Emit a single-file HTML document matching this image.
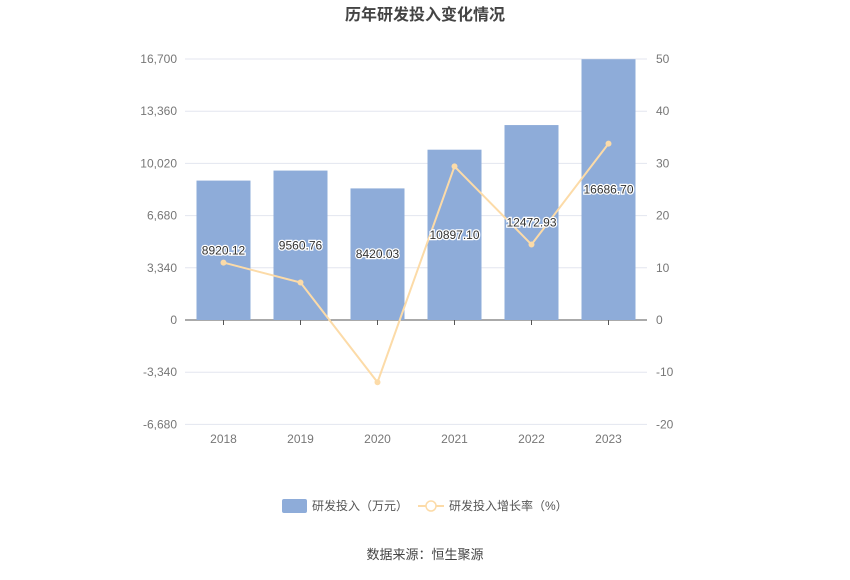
<!DOCTYPE html>
<html><head><meta charset="utf-8"><style>
body{margin:0;background:#fff;font-family:"Liberation Sans","Noto Sans CJK SC",sans-serif;}
svg text{font-family:"Liberation Sans","Noto Sans CJK SC",sans-serif;}
</style></head><body>
<svg id="chart" width="850" height="575">
<text x="425" y="20" text-anchor="middle" font-size="16" font-weight="bold" fill="#444">历年研发投入变化情况</text>
<g id="grid"></g><g id="bars"></g><g id="line"></g><g id="labels"></g><g id="axes"></g>
<g>
<g><rect x="282" y="499" width="25" height="14" rx="2" fill="#8eacd9"/><text x="312" y="510" font-size="12" fill="#555">研发投入（万元）</text></g>
<g><line x1="418" y1="506" x2="444" y2="506" stroke="#fcdba8" stroke-width="2"/><circle cx="431" cy="506" r="5" fill="#fff" stroke="#fcdba8" stroke-width="1.5"/><text x="449" y="510" font-size="12" fill="#555">研发投入增长率（%）</text></g>
</g>
<text x="425" y="559" text-anchor="middle" font-size="13" fill="#444">数据来源：恒生聚源</text>
</svg>
<script>
const categories=["2018","2019","2020","2021","2022","2023"];
const investment=[8920.12,9560.76,8420.03,10897.10,12472.93,16686.70];
const growth=[11.0,7.18,-11.93,29.42,14.46,33.78];
const leftTicks=[-6680,-3340,0,3340,6680,10020,13360,16700];
const rightTicks=[-20,-10,0,10,20,30,40,50];
const NS="http://www.w3.org/2000/svg";
const x0=185,x1=647,yTop=59,yZero=320,pxPer=261/16700;
const yL=v=>yZero-v*pxPer;
const yR=v=>yZero-v*5.22;
const step=(x1-x0)/categories.length;
const xC=i=>x0+step*(i+0.5);
function mk(tag,attrs,parent){const e=document.createElementNS(NS,tag);for(const k in attrs)e.setAttribute(k,attrs[k]);document.getElementById(parent).appendChild(e);return e;}
leftTicks.forEach((t,i)=>{
 const g=mk('line',{x1:x0,x2:x1,y1:yL(t),y2:yL(t),stroke:t===0?'#555':'#e3e6ef','stroke-width':1},'grid');
 
 
 const lt=mk('text',{x:177,y:yL(t)+4,'text-anchor':'end','font-size':12,fill:'#777'},'axes');
 lt.textContent=t.toLocaleString('en-US');
 
 
});
rightTicks.forEach(t=>{
 const rt=mk('text',{x:656,y:yR(t)+4,'font-size':12,fill:'#777'},'axes');
 rt.textContent=t;
 
 
});
categories.forEach((c,i)=>{
 const v=investment[i];
 const b=mk('rect',{x:xC(i)-27,y:yL(v),width:54,height:yZero-yL(v),fill:'#8eacd9'},'bars');
 
 
 const tk=mk('line',{x1:xC(i),x2:xC(i),y1:yZero,y2:yZero+5,stroke:'#555'},'axes');
 
 
 const xl=mk('text',{x:xC(i),y:443,'text-anchor':'middle','font-size':12,fill:'#777'},'axes');
 xl.textContent=c;
 
 
 const vl=mk('text',{x:xC(i),y:(yL(v)+yZero)/2+4,'text-anchor':'middle','font-size':12,fill:'#333',stroke:'#fff','stroke-width':2.5,'paint-order':'stroke'},'labels');
 vl.textContent=v.toFixed(2);
 
 
});
const pl=mk('polyline',{points:growth.map((g,i)=>xC(i)+','+yR(g)).join(' '),fill:'none',stroke:'#fcdba8','stroke-width':2},'line');


growth.forEach((g,i)=>{
 const p=mk('circle',{cx:xC(i),cy:yR(g),r:2.5,fill:'#fcdba8',stroke:'#fcdba8'},'line');
 
 
});
</script>
</body></html>
